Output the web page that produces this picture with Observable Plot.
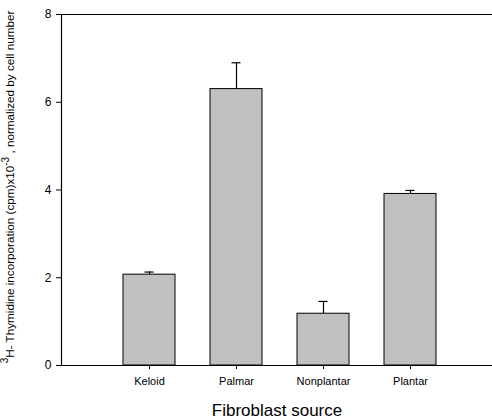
<!DOCTYPE html>
<html>
<head>
<meta charset="utf-8">
<script src="https://cdn.jsdelivr.net/npm/d3@7"></script>
<script src="https://cdn.jsdelivr.net/npm/@observablehq/plot@0.6"></script>
<style>
  html, body { margin: 0; padding: 0; background: #fff; }
  svg { display: block; }
</style>
</head>
<body>
<div id="chart"></div>
<script>
const categories = ["Keloid", "Palmar", "Nonplantar", "Plantar"];
const values = [2.07, 6.30, 1.18, 3.91];
const errors = [0.06, 0.60, 0.28, 0.08];
const yTicks = [0, 2, 4, 6, 8];
const xTitle = "Fibroblast source";
const yTitle = "3H- Thymidine incorporation (cpm)x10-3 , normalized by cell number";

const data = categories.map((c, i) => ({cat: c, v: values[i], e: errors[i], top: values[i] + errors[i]}));

const chart = Plot.plot({
  width: 492,
  height: 419,
  marginLeft: 61,
  marginRight: 0,
  marginTop: 14,
  marginBottom: 54,
  style: {fontFamily: "'Liberation Sans', Arial, sans-serif", fontSize: "11px", color: "#000", background: "#fff"},
  x: {domain: categories, padding: 0.4, paddingOuter: 0.663, align: 0.528, label: null},
  y: {domain: [0, 8], label: null},
  marks: [
    Plot.barY(data, {x: "cat", y: "v", fill: "#c0c0c0", stroke: "#000", strokeWidth: 1}),
    Plot.ruleX(data, {x: "cat", y1: "v", y2: "top", stroke: "#000", strokeWidth: 1.2}),
    Plot.tickY(data, {x: "cat", y: "top", stroke: "#000", strokeWidth: 1.2, insetLeft: 21.5, insetRight: 21.5}),
    Plot.ruleY([0, 8], {stroke: "#000", strokeWidth: 1.2}),
    Plot.frame({anchor: "left", stroke: "#000", strokeWidth: 1.2}),
    Plot.axisY({ticks: yTicks, tickSize: 5, tickPadding: 5, fontSize: 12, label: yTitle, labelAnchor: "center", labelArrow: "none", labelOffset: 57}),
    Plot.axisX({tickSize: 4, tickPadding: 8, fontSize: 11, label: xTitle, labelAnchor: "center", labelArrow: "none", labelOffset: 50})
  ]
});

document.getElementById("chart").appendChild(chart);

// Style axis titles and add superscripts
const svg = d3.select(chart);
svg.selectAll("text").each(function() {
  const t = d3.select(this);
  const txt = t.text();
  if (txt === xTitle) {
    t.attr("font-size", 17);
  } else if (txt === yTitle) {
    t.attr("font-size", 11.7);
    t.text(null);
    t.append("tspan").attr("font-size", 10).attr("dx", 3).attr("dy", "-0.45em").text("3");
    t.append("tspan").attr("dy", "0.45em").text("H- Thymidine incorporation (cpm)x10");
    t.append("tspan").attr("font-size", 10).attr("dy", "-0.45em").text("-3");
    t.append("tspan").attr("dy", "0.45em").text(" , normalized by cell number");
  }
});
</script>
</body>
</html>
